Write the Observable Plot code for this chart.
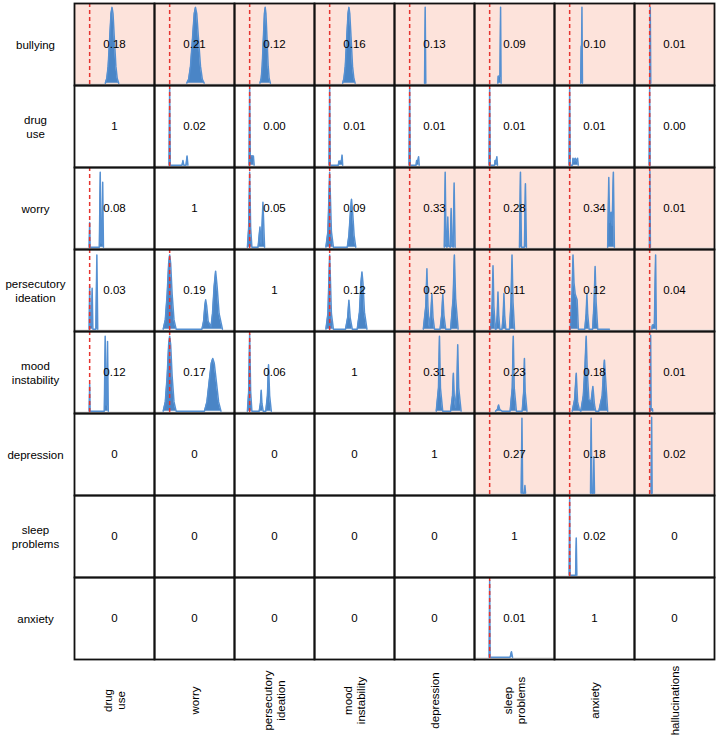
<!DOCTYPE html>
<html><head><meta charset="utf-8">
<script src="https://cdn.jsdelivr.net/npm/d3@7"></script>
<script src="https://cdn.jsdelivr.net/npm/@observablehq/plot@0.6"></script>
<style>body{margin:0;background:#fff}</style>
</head><body><div id="chart"></div>
<script>
const rows = ["bullying","drug use","worry","persecutory ideation","mood instability","depression","sleep problems","anxiety"];
const cols = ["drug use","worry","persecutory ideation","mood instability","depression","sleep problems","anxiety","hallucinations"];
const rowLabels = ["bullying","drug\nuse","worry","persecutory\nideation","mood\ninstability","depression","sleep\nproblems","anxiety"];
const colLabels = ["drug\nuse","worry","persecutory\nideation","mood\ninstability","depression","sleep\nproblems","anxiety","hallucinations"];

// cell texts, one array per row (in column order)
const valBullying   = ["0.18","0.21","0.12","0.16","0.13","0.09","0.10","0.01"];
const valDrugUse    = ["1","0.02","0.00","0.01","0.01","0.01","0.01","0.00"];
const valWorry      = ["0.08","1","0.05","0.09","0.33","0.28","0.34","0.01"];
const valPersecut   = ["0.03","0.19","1","0.12","0.25","0.11","0.12","0.04"];
const valMood       = ["0.12","0.17","0.06","1","0.31","0.23","0.18","0.01"];
const valDepression = ["0","0","0","0","1","0.27","0.18","0.02"];
const valSleep      = ["0","0","0","0","0","1","0.02","0"];
const valAnxiety    = ["0","0","0","0","0","0.01","1","0"];
const values = [valBullying,valDrugUse,valWorry,valPersecut,valMood,valDepression,valSleep,valAnxiety];

// highlighted (shaded) cells per row
const shaded = [
  cols,
  [],
  ["depression","sleep problems","anxiety","hallucinations"],
  ["depression","sleep problems","anxiety","hallucinations"],
  ["depression","sleep problems","anxiety","hallucinations"],
  ["sleep problems","anxiety","hallucinations"],
  [],
  []
];

// posterior density outlines, [x, relative height], per row
const densBullying = [
  ["drug use", [[0.126,0],[0.138,0.06],[0.149,0.22],[0.162,0.6],[0.172,0.9],[0.18,0.98],[0.188,0.9],[0.198,0.6],[0.211,0.22],[0.222,0.06],[0.234,0]]],
  ["worry", [[0.138,0],[0.153,0.05],[0.168,0.22],[0.185,0.6],[0.198,0.9],[0.208,0.98],[0.218,0.9],[0.231,0.6],[0.248,0.22],[0.263,0.05],[0.278,0]]],
  ["persecutory ideation", [[0.083,0],[0.093,0.06],[0.101,0.22],[0.111,0.6],[0.119,0.9],[0.125,0.98],[0.131,0.9],[0.139,0.6],[0.149,0.22],[0.157,0.06],[0.167,0]]],
  ["mood instability", [[0.105,0],[0.115,0.06],[0.126,0.22],[0.138,0.6],[0.148,0.9],[0.155,0.98],[0.162,0.9],[0.172,0.6],[0.184,0.22],[0.195,0.06],[0.205,0]]],
  ["depression", [[0.12,0],[0.125,0.98],[0.13,0]]],
  ["sleep problems", [[0.066,0],[0.069,0.09],[0.083,0.09],[0.088,0.98],[0.092,0]]],
  ["anxiety", [[0.089,0],[0.093,0.48],[0.096,0.44],[0.099,0.98],[0.103,0]]],
  ["hallucinations", [[0.001,0],[0.005,0.98],[0.009,0]]]
];
const densDrugUse = [
  ["worry", [[-0.005,0],[0,0.99],[0.005,0],[0.1,0],[0.107,0.06],[0.114,0],[0.132,0],[0.14,0.12],[0.147,0]]],
  ["persecutory ideation", [[-0.005,0],[0,0.99],[0.005,0.12],[0.03,0.12],[0.036,0]]],
  ["mood instability", [[-0.005,0],[0,0.99],[0.005,0],[0.07,0],[0.074,0.05],[0.094,0.05],[0.1,0.13],[0.105,0]]],
  ["depression", [[-0.005,0],[0,0.99],[0.005,0],[0.052,0],[0.056,0.06],[0.067,0.06],[0.072,0.11],[0.077,0]]],
  ["sleep problems", [[-0.005,0],[0,0.99],[0.005,0],[0.04,0],[0.044,0.06],[0.053,0.06],[0.058,0.11],[0.063,0]]],
  ["anxiety", [[-0.005,0],[0,0.99],[0.005,0],[0.022,0],[0.027,0.09],[0.036,0.05],[0.045,0.09],[0.055,0.05],[0.064,0.09],[0.069,0]]],
  ["hallucinations", [[-0.004,0],[0,0.99],[0.004,0]]]
];
const densWorry = [
  ["drug use", [[-0.004,0],[0,0.32],[0.004,0],[0.078,0],[0.085,0.97],[0.091,0.05],[0.099,0.05],[0.105,0.84],[0.111,0]]],
  ["persecutory ideation", [[-0.018,0],[-0.008,0.25],[0,0.97],[0.008,0.25],[0.018,0],[0.068,0],[0.083,0.26],[0.092,0.04],[0.098,0.2],[0.107,0.58],[0.12,0]]],
  ["mood instability", [[-0.03,0],[-0.014,0.2],[-0.005,0.7],[0,0.97],[0.005,0.7],[0.014,0.2],[0.03,0],[0.142,0],[0.155,0.15],[0.167,0.45],[0.176,0.62],[0.185,0.45],[0.197,0.15],[0.21,0]]],
  ["depression", [[0.279,0],[0.286,0.97],[0.293,0.04],[0.3,0],[0.307,0.39],[0.314,0.02],[0.327,0],[0.334,0.5],[0.341,0.02],[0.35,0],[0.358,0.83],[0.366,0]]],
  ["sleep problems", [[0.24,0],[0.248,0.97],[0.256,0],[0.28,0],[0.288,0.82],[0.296,0]]],
  ["anxiety", [[0.306,0],[0.315,0.9],[0.322,0.32],[0.333,0.45],[0.342,0.28],[0.352,0.97],[0.36,0]]],
  ["hallucinations", [[-0.002,0],[0.002,0.98],[0.006,0]]]
];
const densPersecut = [
  ["drug use", [[-0.004,0],[0,0.55],[0.006,0.05],[0.014,0.05],[0.02,0.53],[0.026,0],[0.05,0],[0.058,0.96],[0.065,0]]],
  ["worry", [[-0.052,0],[-0.035,0.12],[-0.02,0.45],[-0.008,0.85],[0,0.96],[0.008,0.85],[0.02,0.45],[0.035,0.12],[0.052,0],[0.26,0],[0.273,0.1],[0.283,0.3],[0.29,0.38],[0.298,0.3],[0.31,0.1],[0.333,0.03],[0.345,0.2],[0.358,0.55],[0.37,0.75],[0.382,0.55],[0.398,0.2],[0.425,0]]],
  ["mood instability", [[-0.03,0],[-0.014,0.2],[-0.005,0.7],[0,0.96],[0.005,0.7],[0.014,0.2],[0.03,0],[0.128,0],[0.145,0.15],[0.155,0.375],[0.165,0.15],[0.182,0],[0.222,0],[0.24,0.22],[0.252,0.6],[0.26,0.74],[0.268,0.6],[0.28,0.22],[0.3,0]]],
  ["depression", [[0.11,0],[0.13,0.3],[0.139,0.78],[0.147,0.3],[0.158,0.03],[0.17,0.18],[0.179,0.45],[0.188,0.15],[0.2,0],[0.245,0],[0.258,0.18],[0.267,0.45],[0.276,0.18],[0.29,0],[0.33,0],[0.35,0.4],[0.36,0.96],[0.37,0.4],[0.39,0]]],
  ["sleep problems", [[0.008,0],[0.02,0.3],[0.027,0.82],[0.034,0.3],[0.046,0],[0.052,0],[0.061,0.18],[0.067,0.48],[0.073,0.18],[0.082,0],[0.1,0],[0.109,0.18],[0.115,0.46],[0.121,0.18],[0.13,0],[0.16,0],[0.172,0.35],[0.18,0.96],[0.188,0.35],[0.2,0]]],
  ["anxiety", [[0.005,0],[0.02,0.5],[0.027,0.96],[0.035,0.6],[0.045,0.45],[0.06,0.38],[0.07,0],[0.122,0],[0.133,0.2],[0.139,0.46],[0.145,0.2],[0.156,0],[0.185,0],[0.197,0.35],[0.205,0.81],[0.213,0.35],[0.226,0],[0.32,0]]],
  ["hallucinations", [[0.018,0],[0.022,0.05],[0.038,0.06],[0.044,0.6],[0.048,0.96],[0.054,0]]]
];
const densMood = [
  ["drug use", [[-0.004,0],[0,0.35],[0.004,0],[0.118,0],[0.125,0.97],[0.131,0.08],[0.138,0.08],[0.144,0.9],[0.15,0]]],
  ["worry", [[-0.052,0],[-0.035,0.12],[-0.02,0.45],[-0.008,0.86],[0,0.97],[0.008,0.86],[0.02,0.45],[0.035,0.12],[0.052,0],[0.28,0],[0.3,0.12],[0.318,0.38],[0.335,0.62],[0.347,0.68],[0.359,0.62],[0.376,0.38],[0.394,0.12],[0.413,0]]],
  ["persecutory ideation", [[-0.018,0],[-0.008,0.25],[0,0.99],[0.008,0.25],[0.018,0],[0.077,0],[0.087,0.1],[0.093,0.27],[0.099,0.1],[0.109,0],[0.13,0],[0.143,0.2],[0.152,0.6],[0.161,0.2],[0.174,0]]],
  ["depression", [[0.214,0],[0.232,0.3],[0.24,0.97],[0.248,0.3],[0.266,0],[0.33,0],[0.345,0.2],[0.352,0.49],[0.359,0.2],[0.37,0.05],[0.38,0.3],[0.387,0.86],[0.395,0.3],[0.414,0]]],
  ["sleep problems", [[0.048,0],[0.062,0.02],[0.072,0.08],[0.082,0.02],[0.1,0],[0.165,0],[0.182,0.3],[0.19,0.97],[0.198,0.3],[0.215,0],[0.262,0],[0.274,0.25],[0.28,0.68],[0.286,0.25],[0.3,0]]],
  ["anxiety", [[0.021,0],[0.04,0.15],[0.053,0.49],[0.064,0.12],[0.078,0.02],[0.09,0],[0.11,0.2],[0.124,0.6],[0.133,0.97],[0.142,0.5],[0.155,0.15],[0.172,0.12],[0.187,0.32],[0.2,0.08],[0.21,0],[0.235,0],[0.262,0.2],[0.272,0.5],[0.28,0.66],[0.29,0.4],[0.306,0]]],
  ["hallucinations", [[0.004,0],[0.008,0.98],[0.012,0.03],[0.022,0.03],[0.025,0]]]
];
const densDepression = [
  ["sleep problems", [[0.254,0],[0.26,0.97],[0.266,0],[0.279,0],[0.284,0.1],[0.289,0]]],
  ["anxiety", [[0.168,0],[0.173,0.97],[0.179,0],[0.19,0],[0.195,0.47],[0.2,0]]],
  ["hallucinations", [[0.012,0],[0.016,0.98],[0.02,0]]]
];
const densSleep = [
  ["anxiety", [[-0.004,0],[0,0.99],[0.004,0],[0.048,0],[0.053,0.48],[0.058,0]]]
];
const densAnxiety = [
  ["sleep problems", [[-0.004,0],[0,0.99],[0.004,0],[0.165,0],[0.176,0.07],[0.184,0]]]
];
const densities = [densBullying,densDrugUse,densWorry,densPersecut,densMood,densDepression,densSleep,densAnxiety];

// ---- build tables for the library ----
const cells = [];
rows.forEach((r,i) => cols.forEach((c,j) => cells.push({row:r, col:c, v:values[i][j]})));
const shadedCells = [];
rows.forEach((r,i) => shaded[i].forEach(c => shadedCells.push({row:r, col:c})));
const densCells = [], densPts = [];
rows.forEach((r,i) => densities[i].forEach(([c, pts]) => {
  densCells.push({row:r, col:c});
  pts.forEach(([x,h]) => densPts.push({row:r, col:c, key:r+"|"+c, x, h}));
}));

const font = "'Liberation Sans', Arial, Helvetica, sans-serif";
const chart = Plot.plot({
  width: 717, height: 739,
  marginLeft: 72, marginRight: 1, marginTop: 2, marginBottom: 79,
  style: {fontFamily: font, background: "white"},
  fx: {domain: cols, padding: 0, axis: null},
  fy: {domain: rows, padding: 0, axis: null},
  x: {domain: [-0.122, 0.522], axis: null},
  y: {domain: [-0.03, 1.03], axis: null},
  marks: [
    Plot.rect(shadedCells, {fx: "col", fy: "row", fill: "#fde3db"}),
    Plot.ruleY(densCells, {fx: "col", fy: "row", y: -0.012, stroke: "#d6d6d6", strokeWidth: 1}),
    Plot.areaY(densPts, {fx: "col", fy: "row", x: "x", y: "h", z: "key", fill: "#4a85c6", curve: "linear"}),
    Plot.lineY(densPts, {fx: "col", fy: "row", x: "x", y: "h", z: "key", stroke: "#5590d2", strokeWidth: 1.5, curve: "linear"}),
    Plot.ruleX(densCells, {fx: "col", fy: "row", x: 0, stroke: "#e5342f", strokeWidth: 1.5, strokeDasharray: "4,3"}),
    Plot.text(cells, {fx: "col", fy: "row", text: "v", frameAnchor: "middle", fontSize: 11.5, fill: "#000"}),
    Plot.text(rows, {fy: d => d, fx: () => cols[0], text: (d,i) => rowLabels[i], frameAnchor: "left", dx: -39, textAnchor: "middle", lineAnchor: "middle", lineHeight: 1.25, fontSize: 11.5, fill: "#000"}),
    Plot.text(cols, {fx: d => d, fy: () => rows[rows.length-1], text: (d,i) => colLabels[i], frameAnchor: "bottom", dy: 41, rotate: -90, textAnchor: "middle", lineAnchor: "middle", lineHeight: 1.1, fontSize: 11.5, fill: "#000"}),
    Plot.frame({stroke: "#111", strokeWidth: 1.8})
  ]
});
document.getElementById("chart").appendChild(chart);
</script>
</body></html>
